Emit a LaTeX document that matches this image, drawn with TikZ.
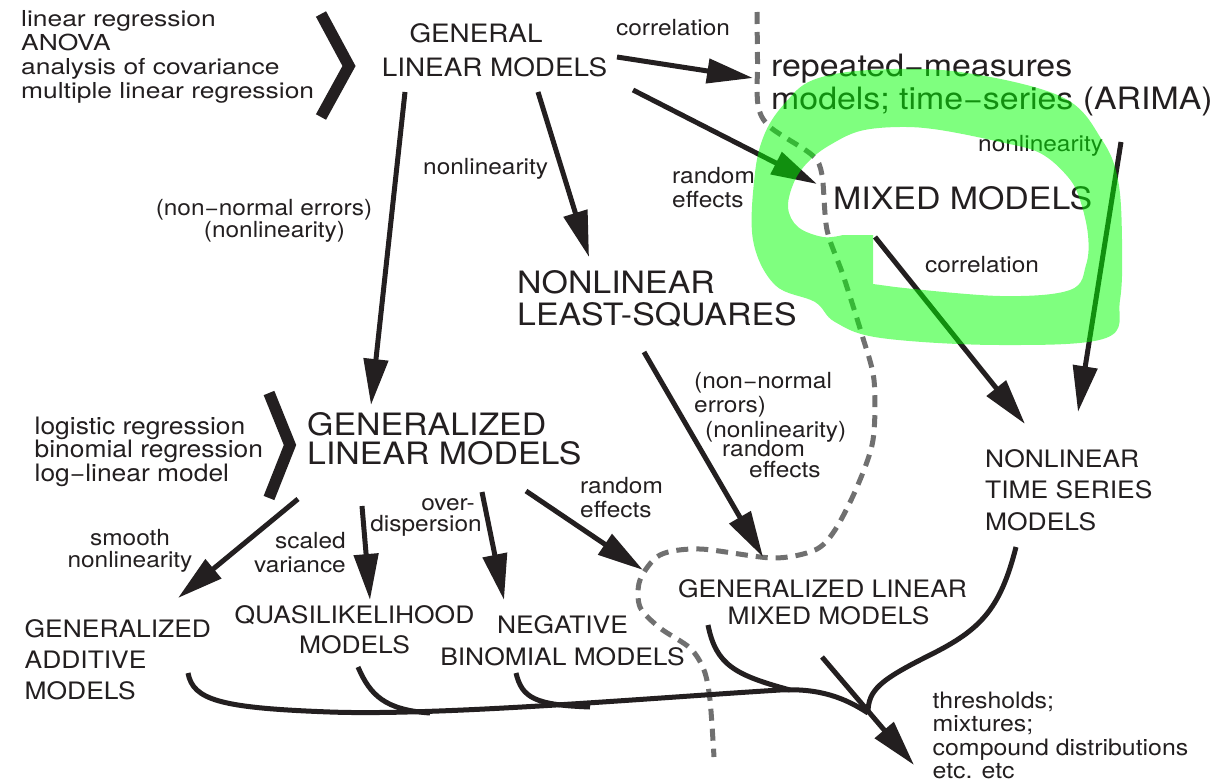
\documentclass[tikz,border=0pt]{standalone}
\usepackage{fontspec}
\setmainfont{TeX Gyre Heros}[FakeStretch=1.1]
\newfontfamily\widefont{TeX Gyre Heros}[FakeStretch=1.2]
\usetikzlibrary{arrows.meta}
\definecolor{hl}{RGB}{0,255,0}
\definecolor{dashgray}{RGB}{112,112,112}
\definecolor{ink}{RGB}{35,31,32}
\tikzset{
  txtlbl/.style={inner sep=0pt, text=ink, font=\fontsize{22.2}{24}\selectfont},
  txtbig/.style={inner sep=0pt, text=ink, font=\fontsize{30.8}{32}\selectfont},
  txtmed/.style={inner sep=0pt, text=ink, font=\fontsize{24}{31}\selectfont},
  arr/.style={line width=5pt, draw=ink, -{Triangle[length=46pt,width=24pt]}},
  bline/.style={line width=5pt, draw=ink, line cap=butt},
  chev/.style={line width=11.5pt, draw=ink, line join=miter, miter limit=10},
  dline/.style={line width=5pt, draw=dashgray, dash pattern=on 12pt off 8pt},
}
\begin{document}
\begin{tikzpicture}[x=1pt,y=-1pt]
\useasboundingbox (0,0) rectangle (1229,781);
\fill[white] (0,0) rectangle (1229,781);

% dashed boundary
\draw[dline] plot[smooth, tension=0.5] coordinates {(757,12) (757.5,60) (758,105) (770,127) (812,155) (822,175) (827,230) (843,275) (862,335) (874,380) (873,440) (857,487) (835,530) (815,550) (773,558) (700,549) (660,555) (640,580) (640,607) (660,628) (690,648) (704,670) (710,700) (714,757)};

% texts (anchor base = baseline of the last line)
\node[inner sep=0pt, text=ink, font=\widefont\fontsize{22}{24}\selectfont, align=left, anchor=base west] (lst1) at (21,99) {linear regression\\ANOVA\\analysis of covariance\\multiple linear regression};
\node[inner sep=0pt, text=ink, font=\fontsize{25.3}{34}\selectfont, align=center, anchor=base] (glm) at (494.5,77) {GENERAL\hspace*{37pt}\\LINEAR MODELS};
\node[txtlbl, anchor=base west] (lcor1) at (616,36) {correlation};
\node[txtbig, align=left, anchor=base west, font=\fontsize{30.8}{33}\selectfont] (rep) at (771,110) {repeated−measures\\models; time−series (ARIMA)};
\node[txtbig, anchor=base west] (mix) at (833,209) {MIXED MODELS};
\node[txtlbl, align=left, anchor=base west] (lre1) at (672,207) {random\\effects};
\node[txtlbl, anchor=base west] (lnl2) at (978,152) {nonlinearity};
\node[txtlbl, anchor=base west] (lcor2) at (925,272) {correlation};
\node[txtbig, align=left, anchor=base west] (nlls) at (517,325) {NONLINEAR\\LEAST-SQUARES};
\node[txtlbl, anchor=base west] (lnl1) at (423,175) {nonlinearity};
\node[txtlbl, align=center, anchor=base, font=\fontsize{22.2}{20}\selectfont] (lnn1) at (264,237) {(non−normal errors)\\\hspace*{21pt}(nonlinearity)};
\node[txtbig, align=left, anchor=base west, font=\fontsize{30.8}{29}\selectfont] (glz) at (307,464) {GENERALIZED\\LINEAR MODELS};
\node[inner sep=0pt, text=ink, font=\fontsize{24}{23.5}\selectfont, align=left, anchor=base west] (lst2) at (34.5,481) {logistic regression\\binomial regression\\log−linear model};
\node[txtlbl, align=center, anchor=base, font=\fontsize{22.2}{22}\selectfont] (lsm) at (130,567) {smooth\\nonlinearity};
\node[txtlbl, align=right, anchor=base east] (lsc) at (346,572) {scaled\\variance};
\node[txtlbl, align=right, anchor=base east, font=\fontsize{22.2}{21}\selectfont] (lod) at (482,531) {over-\hspace*{7pt}\\dispersion};
\node[txtlbl, align=left, anchor=base west] (lre2) at (580,517) {random\\effects};
\node[txtlbl, align=left, anchor=base west] (lnn2) at (694,477) {(non−normal\\errors)\\[1pt]\hspace*{11pt}(nonlinearity)\\[-5pt]\hspace*{28pt}random\\[-3pt]\hspace*{55pt}effects};
\node[txtmed, align=left, anchor=base west] (gam) at (24.5,699) {GENERALIZED\\ADDITIVE\\MODELS};
\node[txtmed, align=center, anchor=base, font=\fontsize{24}{30}\selectfont] (qlm) at (354.5,653) {QUASILIKELIHOOD\\MODELS};
\node[txtmed, align=center, anchor=base, font=\fontsize{24}{32}\selectfont] (nbm) at (562.5,665) {NEGATIVE\\BINOMIAL MODELS};
\node[txtmed, align=center, anchor=base, font=\fontsize{24}{27}\selectfont] (glmm) at (822.5,624) {GENERALIZED LINEAR\\\hspace*{12pt}MIXED MODELS};
\node[txtmed, align=left, anchor=base west, font=\fontsize{24}{31.5}\selectfont] (nlts) at (985,530) {NONLINEAR\\TIME SERIES\\MODELS};
\node[inner sep=0pt, text=ink, font=\fontsize{22.6}{23.5}\selectfont, align=left, anchor=base west] (thr) at (932.5,778.5) {thresholds;\\mixtures;\\compound distributions\\etc. etc};

% chevrons
\draw[chev] (321,14) -- (349,66) -- (321,117);
\draw[chev] (269,393) -- (290,445) -- (269,498);

% arrow end points
\coordinate (a1) at (617,57);   \coordinate (a2) at (753,78);
\coordinate (b1) at (633,90);   \coordinate (b2) at (817,184);
\coordinate (c1) at (538,92);   \coordinate (c2) at (589,257);
\coordinate (d1) at (405,92);   \coordinate (d2) at (371,405);
\coordinate (e1) at (644,352);  \coordinate (e2) at (763,557);
\coordinate (f1) at (875,237);  \coordinate (f2) at (1025,424);
\coordinate (g1) at (1121,142); \coordinate (g2) at (1078,412);
\coordinate (h1) at (298,499);  \coordinate (h2) at (178,598);
\coordinate (i1) at (362,506);  \coordinate (i2) at (370,600);
\coordinate (j1) at (482,492);  \coordinate (j2) at (504,600);
\coordinate (k1) at (526,491);  \coordinate (k2) at (643,570);
\coordinate (z1) at (822,657);  \coordinate (z2) at (914,765);
\coordinate (m) at (868,713);

\draw[arr] (a1) -- (a2);
\draw[arr] (b1) -- (b2);
\draw[arr] (c1) -- (c2);
\draw[arr] (d1) -- (d2);
\draw[arr] (e1) -- (e2);
\draw[arr] (f1) -- (f2);
\draw[arr] (g1) -- (g2);
\draw[arr] (h1) -- (h2);
\draw[arr] (i1) -- (i2);
\draw[arr] (j1) -- (j2);
\draw[arr] (k1) -- (k2);
\draw[arr] (z1) -- (z2);

% merging curves
\draw[bline] (188,673) .. controls (193,700) and (220,708) .. (330,712) .. controls (440,716) and (650,698) .. (780,690) .. controls (820,688) and (845,698) .. (m);
\draw[bline] (358,667) .. controls (370,695) and (385,710) .. (430,713);
\draw[bline] (516,673) .. controls (522,698) and (535,705) .. (590,707);
\draw[bline] (708,625) .. controls (716,665) and (735,675) .. (790,690);
\draw[bline] (1016,547) .. controls (1000,610) and (980,630) .. (930,655) .. controls (880,680) and (868,690) .. (m);

% green highlight
\fill[hl, opacity=0.5, even odd rule]
  plot[smooth cycle, tension=0.6] coordinates {(813,80) (870,70) (960,72) (1062,97) (1102,140) (1118,180) (1122,240) (1120,300) (1106,338) (1000,345) (881,338) (835,322) (815,302) (775,285) (753,240) (755,173) (765,133) (785,103)}
  (873,235) -- (873,284) -- plot[smooth, tension=0.6] coordinates {(895,287) (1000,296) (1070,290) (1086,265) (1088,235) (1080,200) (1068,177) (1040,153) (1000,142) (940,130) (900,127) (860,131) (830,145) (810,160) (795,180) (788,207) (798,227) (823,237) (843,235)} -- cycle;
\end{tikzpicture}
\end{document}
